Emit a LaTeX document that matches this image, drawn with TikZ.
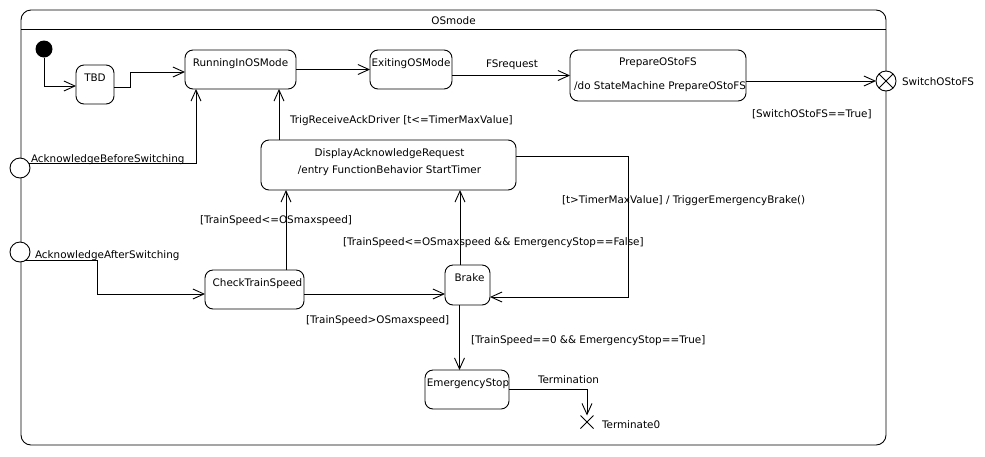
\documentclass[tikz,border=0pt]{standalone}
\usepackage{fontspec}
\setmainfont{DejaVu Sans}
\usetikzlibrary{arrows.meta,shapes.misc,calc}
\begin{document}
\begin{tikzpicture}[x=1pt,y=-1pt,
  every node/.style={font=\fontsize{10.4}{12}\selectfont, inner sep=0pt, outer sep=0pt},
  lw/.style={line width=0.9pt},
  st/.style={draw, line width=0.9pt, rounded corners=8pt},
  txt/.style={anchor=west, text height=7.6pt, text depth=2pt, yshift=-1.5pt},
  ctxt/.style={anchor=center, text height=7.6pt, text depth=2pt, yshift=-1.5pt},
  arr/.style={line width=0.9pt, -{Straight Barb[length=11pt,width=10pt]}},
  pt/.style={circle, draw, fill=white, line width=0.9pt, minimum size=20pt}
  ]
\useasboundingbox (0,0) rectangle (985,456);
% container
\node[draw, lw, rounded corners=10pt, minimum width=865pt, minimum height=435pt, anchor=north west] (osm) at (21,10) {};
\draw[lw] ([yshift=-19pt]osm.north west) -- ([yshift=-19pt]osm.north east);
\node[ctxt] (osmT) at ($(osm.north)+(0,10)$) {OSmode};
% states
\node[circle, fill=black, minimum size=17pt] (init) at (44,49) {};
\node[st, minimum width=38pt, minimum height=39pt] (tbd) at (95,84.5) {};
\node[ctxt] (tbdT) at ($(tbd.north)+(0,12)$) {TBD};
\node[st, minimum width=111pt, minimum height=39pt] (run) at (240.5,69.5) {};
\node[ctxt] (runT) at ($(run.north)+(0,12)$) {RunningInOSMode};
\node[st, minimum width=82pt, minimum height=39pt] (exit) at (411,69.5) {};
\node[ctxt] (exitT) at ($(exit.north)+(0,12)$) {ExitingOSMode};
\node[st, minimum width=176pt, minimum height=51pt] (prep) at (658,75.5) {};
\node[ctxt] (prepT) at ($(prep.north)+(0,11)$) {PrepareOStoFS};
\node[ctxt] (prepD) at ($(prep.north)+(2,35)$) {/do StateMachine PrepareOStoFS};
\node[st, minimum width=255pt, minimum height=50pt] (disp) at (388.5,165) {};
\node[ctxt] (dispT) at ($(disp.north)+(1,12)$) {DisplayAcknowledgeRequest};
\node[ctxt] (dispE) at ($(disp.north)+(1,29)$) {/entry FunctionBehavior StartTimer};
\node[st, minimum width=99pt, minimum height=39pt] (chk) at (254.5,289.5) {};
\node[ctxt] (chkT) at ($(chk.north)+(3,12)$) {CheckTrainSpeed};
\node[st, minimum width=45pt, minimum height=40pt] (brake) at (467.5,285) {};
\node[ctxt] (brakeT) at ($(brake.north)+(2,12)$) {Brake};
\node[st, minimum width=84pt, minimum height=39pt] (emg) at (467,389.5) {};
\node[ctxt] (emgT) at ($(emg.north)+(1,12)$) {EmergencyStop};
% pseudo states
\node[pt] (ab) at (20,168) {};
\node[pt] (aa) at (20,252) {};
\node[pt] (sw) at (886,81) {};
\draw[lw] (sw.45) -- (sw.225) (sw.135) -- (sw.-45);
\node[cross out, draw, line width=0.9pt, minimum size=13pt] (term) at (587,422) {};
% point labels
\node[txt] (abL) at (31,158) {AcknowledgeBeforeSwitching};
\node[txt] (aaL) at (35,254) {AcknowledgeAfterSwitching};
\node[txt] (swL) at (902,81) {SwitchOStoFS};
\node[txt] (termL) at (602,424) {Terminate0};
% transitions
\draw[arr] (init) |- ([yshift=-1.5pt]tbd.west);
\draw[arr] ([yshift=-2.5pt]tbd.east) -- ++(16,0) |- ([yshift=-2.5pt]run.west);
\draw[arr] (run.east) -- (exit.west);
\draw[arr] (prep.west -| exit.east) -- (prep.west);
\draw[arr] (prep.east |- sw) -- (sw);
\draw[arr] (ab.30) -| ([xshift=-44.5pt]run.south);
\draw[arr] ([xshift=-109.5pt]disp.north) -- ([xshift=38.5pt]run.south);
\draw[arr] ([yshift=9pt]disp.east) -- ++(112,0) |- ([yshift=-12pt]brake.east);
\draw[arr] (aa.-60) -- ++(72,0) |- ([yshift=-4.5pt]chk.west);
\draw[arr] ([xshift=31.5pt]chk.north) -- ([xshift=-102.5pt]disp.south);
\draw[arr] ([yshift=-4.5pt]chk.east) -- ([yshift=-9pt]brake.west);
\draw[arr] ([xshift=-7.5pt]brake.north) -- ([xshift=71.5pt]disp.south);
\draw[arr] ([xshift=-8pt]brake.south) -- ([xshift=-7.5pt]emg.north);
\draw[arr] (emg.east) -| (term.north);
% transition labels
\node[txt] (l1) at (486,63) {FSrequest};
\node[txt] (l2) at (290,119) {TrigReceiveAckDriver [t<=TimerMaxValue]};
\node[txt] (l3) at (752,113) {[SwitchOStoFS==True]};
\node[txt] (l4) at (562,199) {[t>TimerMaxValue] / TriggerEmergencyBrake()};
\node[txt] (l5) at (200,219) {[TrainSpeed<=OSmaxspeed]};
\node[txt] (l6) at (343,241) {[TrainSpeed<=OSmaxspeed \&\& EmergencyStop==False]};
\node[txt] (l7) at (306,319) {[TrainSpeed>OSmaxspeed]};
\node[txt] (l8) at (471,339) {[TrainSpeed==0 \&\& EmergencyStop==True]};
\node[txt] (l9) at (538,379) {Termination};
\end{tikzpicture}
\end{document}
